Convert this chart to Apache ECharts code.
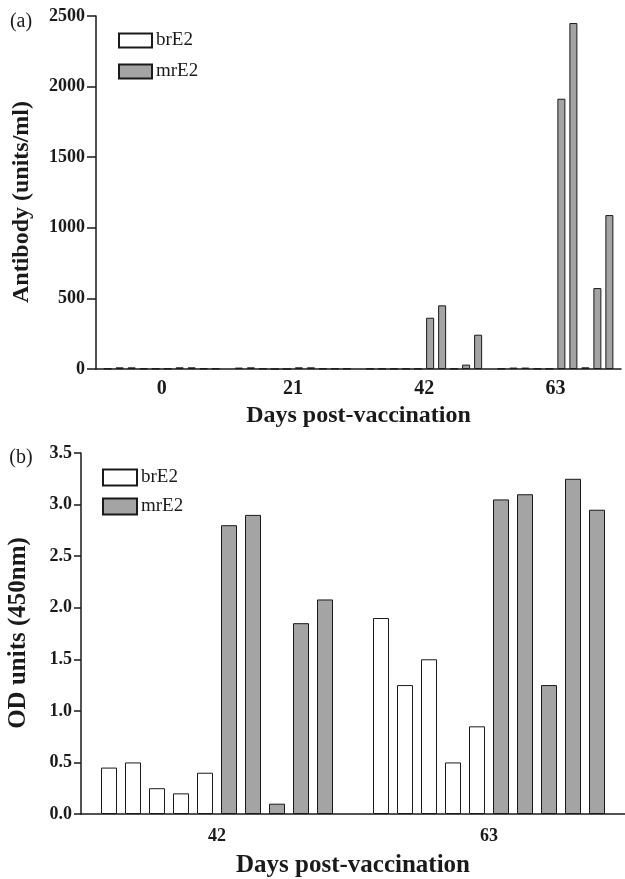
<!DOCTYPE html>
<html>
<head>
<meta charset="utf-8">
<script src="https://cdn.jsdelivr.net/npm/echarts@6/dist/echarts.min.js"></script>
<style>
  html, body { margin: 0; padding: 0; background: #fff; }
  #chart { width: 625px; height: 879px; }
</style>
</head>
<body>
<div id="chart"></div>
<script>
// panel (a): antibody units/ml, 5 animals per group
const daysA = ['0', '21', '42', '63'];
const brE2A = [
  [3, 12, 12, 4, 3],   // day 0
  [10, 12, 3, 0, 0],   // day 21
  [2, 2, 2, 2, 2],     // day 42
  [3, 10, 10, 3, 3]    // day 63
];
const mrE2A = [
  [3, 12, 12, 4, 3],
  [12, 12, 3, 3, 3],
  [363, 451, 3, 31, 243],
  [1914, 2450, 12, 573, 1090]
];
const ticksA = [0, 500, 1000, 1500, 2000, 2500];

// panel (b): OD units (450nm)
const daysB = ['42', '63'];
const brE2B = [
  [0.45, 0.50, 0.25, 0.20, 0.40],
  [1.90, 1.25, 1.50, 0.50, 0.85]
];
const mrE2B = [
  [2.80, 2.90, 0.10, 1.85, 2.08],
  [3.05, 3.10, 1.25, 3.25, 2.95]
];
const ticksB = [0, 0.5, 1.0, 1.5, 2.0, 2.5, 3.0, 3.5];

const FONT = 'Liberation Serif';
const INK = '#1a1a1a';
const GRAY = '#a4a4a4';

const chart = echarts.init(document.getElementById('chart'));

function makeSeries(groups, name, color, axisIdx, bw) {
  const out = [];
  for (let k = 0; k < 5; k++) {
    out.push({
      type: 'bar',
      name: name,
      xAxisIndex: axisIdx,
      yAxisIndex: axisIdx,
      barWidth: bw,
      barGap: '50%',
      data: groups.map(g => g[k]),
      itemStyle: { color: color, borderColor: INK, borderWidth: 1 },
      emphasis: { disabled: true }
    });
  }
  return out;
}

const series = [].concat(
  makeSeries(brE2A, 'brE2', '#ffffff', 0, 8),
  makeSeries(mrE2A, 'mrE2', GRAY, 0, 8),
  makeSeries(brE2B, 'brE2', '#ffffff', 1, 16),
  makeSeries(mrE2B, 'mrE2', GRAY, 1, 16)
);

const axisLine = { lineStyle: { color: INK, width: 1.5 } };

const option = {
  animation: false,
  textStyle: { fontFamily: FONT },
  grid: [
    { left: 96, top: 16, right: 4, height: 353 },
    { left: 81, top: 453, right: 0, height: 363 }
  ],
  legend: [
    {
      orient: 'vertical', left: 113, top: 26,
      icon: 'rect',
      itemWidth: 33, itemHeight: 14, itemGap: 12,
      data: ['brE2', 'mrE2'],
      selectedMode: false,
      textStyle: { fontFamily: FONT, fontSize: 19, color: INK, padding: [0, 0, 0, -1] }
    },
    {
      orient: 'vertical', left: 97, top: 463,
      icon: 'rect',
      itemWidth: 34, itemHeight: 16, itemGap: 10,
      data: ['brE2', 'mrE2'],
      selectedMode: false,
      textStyle: { fontFamily: FONT, fontSize: 19, color: INK, padding: [0, 0, 0, -1] }
    }
  ],
  xAxis: [
    {
      type: 'category', gridIndex: 0, data: daysA,
      axisLine: axisLine,
      axisTick: { alignWithLabel: true, length: 7, lineStyle: { color: INK, width: 1.5 } },
      axisLabel: { margin: 10, fontSize: 20, fontWeight: 'bold', color: INK, fontFamily: FONT },
      name: 'Days post-vaccination', nameLocation: 'middle', nameGap: 35,
      nameTextStyle: { fontSize: 24, fontWeight: 'bold', color: INK, fontFamily: FONT }
    },
    {
      type: 'category', gridIndex: 1, data: daysB,
      axisLine: axisLine,
      axisTick: { alignWithLabel: true, length: 9, lineStyle: { color: INK, width: 1.5 } },
      axisLabel: { margin: 13, fontSize: 18, fontWeight: 'bold', color: INK, fontFamily: FONT },
      name: 'Days post-vaccination', nameLocation: 'middle', nameGap: 39,
      nameTextStyle: { fontSize: 25, fontWeight: 'bold', color: INK, fontFamily: FONT }
    }
  ],
  yAxis: [
    {
      type: 'value', gridIndex: 0,
      min: ticksA[0], max: ticksA[ticksA.length - 1], interval: ticksA[1] - ticksA[0],
      axisLine: { show: true, lineStyle: { color: INK, width: 1.5 } },
      axisTick: { show: true, length: 9, lineStyle: { color: INK, width: 1.5 } },
      splitLine: { show: false },
      axisLabel: {
        margin: 11, fontSize: 18, fontWeight: 'bold', color: INK, fontFamily: FONT,
        formatter: v => String(v)
      }
    },
    {
      type: 'value', gridIndex: 1,
      min: ticksB[0], max: ticksB[ticksB.length - 1], interval: ticksB[1] - ticksB[0],
      axisLine: { show: true, lineStyle: { color: INK, width: 1.5 } },
      axisTick: { show: true, length: 7, lineStyle: { color: INK, width: 1.5 } },
      splitLine: { show: false },
      axisLabel: {
        margin: 9, fontSize: 18, fontWeight: 'bold', color: INK, fontFamily: FONT,
        formatter: v => v.toFixed(1)
      }
    }
  ],
  graphic: [
    {
      type: 'text', x: 21, y: 22,
      style: { text: '(a)', fontSize: 20, fontFamily: FONT, fill: INK, textAlign: 'center', textVerticalAlign: 'middle' }
    },
    {
      type: 'text', x: 21, y: 458,
      style: { text: '(b)', fontSize: 20, fontFamily: FONT, fill: INK, textAlign: 'center', textVerticalAlign: 'middle' }
    },
    {
      type: 'text', x: 22, y: 202, rotation: Math.PI / 2,
      style: { text: 'Antibody (units/ml)', fontSize: 24, fontWeight: 'bold', fontFamily: FONT, fill: INK, textAlign: 'center', textVerticalAlign: 'middle' }
    },
    {
      type: 'text', x: 19, y: 633, rotation: Math.PI / 2,
      style: { text: 'OD units (450nm)', fontSize: 25, fontWeight: 'bold', fontFamily: FONT, fill: INK, textAlign: 'center', textVerticalAlign: 'middle' }
    }
  ],
  series: series
};

chart.setOption(option);
</script>
</body>
</html>
